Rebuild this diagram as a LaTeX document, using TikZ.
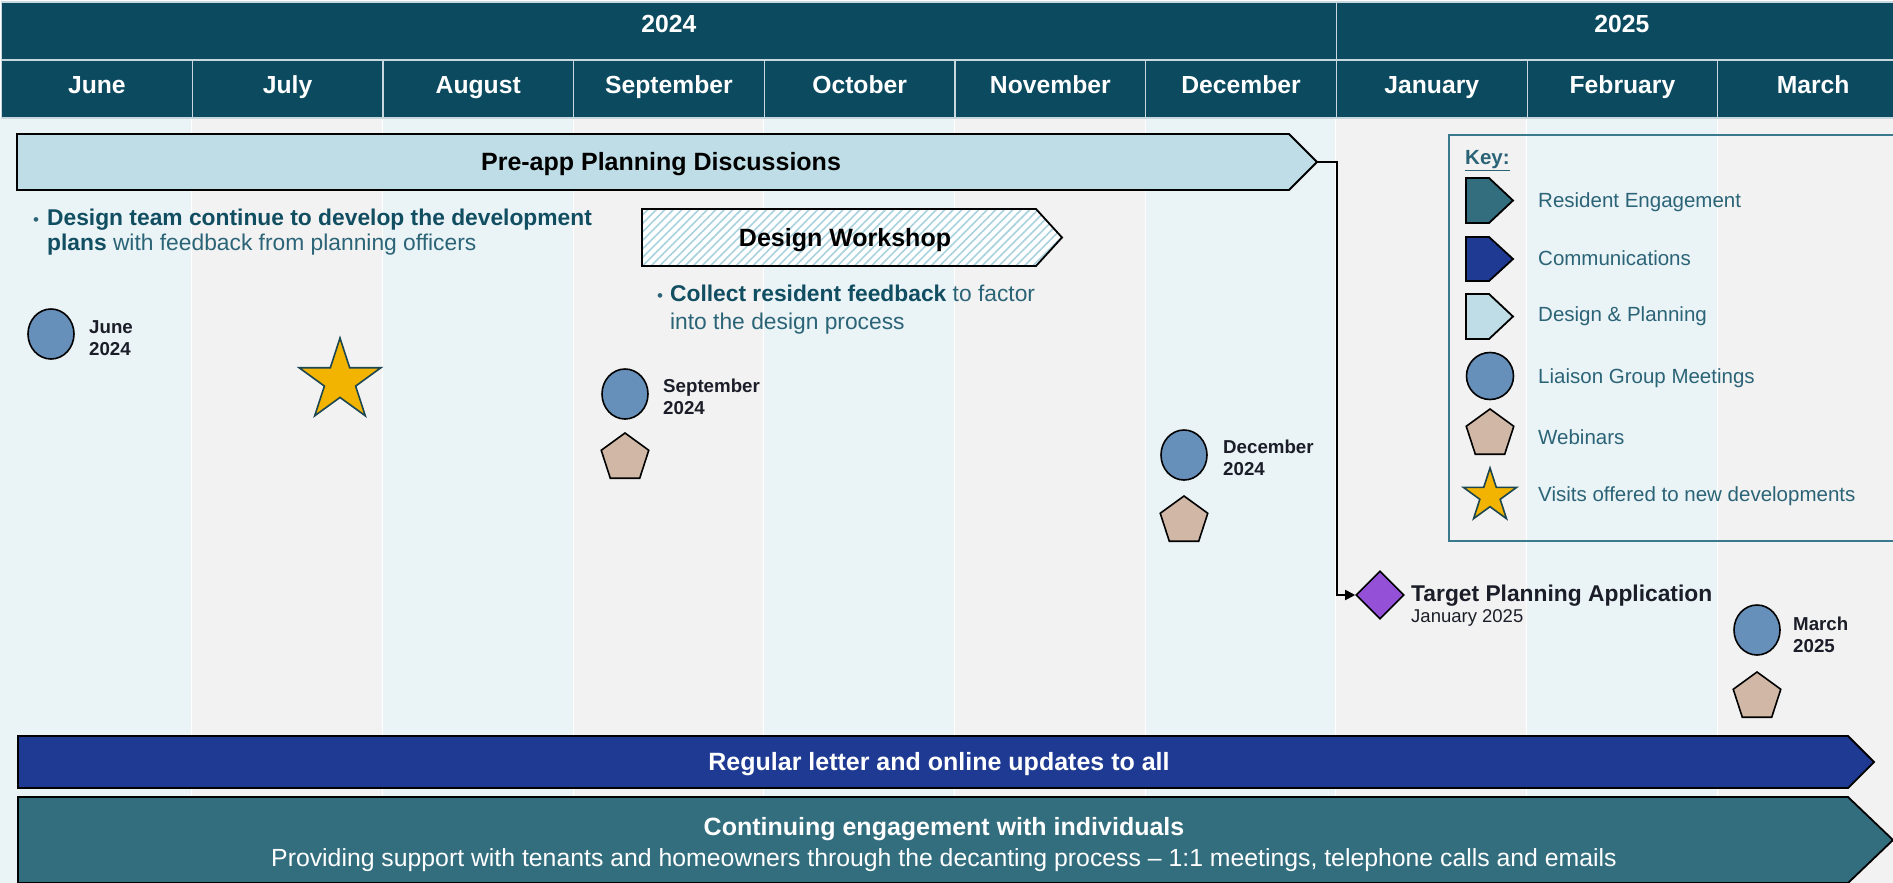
\documentclass[tikz,border=0pt]{standalone}
\usepackage{fontspec}
\setmainfont{Liberation Sans}
\usetikzlibrary{shapes.geometric,patterns.meta,arrows.meta}
\definecolor{hdr}{HTML}{0B4A5F}
\definecolor{hdrline}{HTML}{C9D8DE}
\definecolor{colA}{HTML}{EAF3F6}
\definecolor{colB}{HTML}{F2F2F2}
\definecolor{resEng}{HTML}{336E7E}
\definecolor{comms}{HTML}{1F3A93}
\definecolor{desPlan}{HTML}{BEDDE6}
\definecolor{hatch}{HTML}{A8D2DE}
\definecolor{liaison}{HTML}{6690BA}
\definecolor{webinar}{HTML}{D1B8A6}
\definecolor{starfill}{HTML}{F2B400}
\definecolor{stardraw}{HTML}{1C4650}
\definecolor{tpa}{HTML}{9450D6}
\definecolor{keyline}{HTML}{3B7A8C}
\definecolor{keytxt}{HTML}{2B6477}
\definecolor{bulletbold}{HTML}{124E62}
\definecolor{bulletreg}{HTML}{2B6477}
\definecolor{lblc}{HTML}{1B1E28}
\newcommand\mkarrowbar[6]{%
  \path[#6] (#1,#2) -- (#3,#2) -- (#4,{(#2+#5)/2}) -- (#3,#5) -- (#1,#5) -- cycle;}
\tikzset{
  cell/.style={draw=hdrline, line width=1.2pt, fill=hdr, inner sep=0pt},
  celltext/.style={text=white, font=\bfseries\fontsize{24.7}{28}\selectfont, inner sep=0pt, anchor=base},
  barline/.style={draw=black, line width=1.8pt, line join=miter},
  bartext/.style={font=\bfseries\fontsize{25}{29}\selectfont, inner sep=0pt, align=center},
  circ/.style={ellipse, draw=black, line width=1.6pt, fill=liaison,
    minimum width=46pt, minimum height=50pt, inner sep=0pt},
  pent/.style={regular polygon, regular polygon sides=5, draw=black, line width=1.6pt,
    fill=webinar, minimum size=50pt, inner sep=0pt},
  starsh/.style={star, star points=5, star point ratio=2.618, draw=stardraw,
    line width=1.6pt, fill=starfill, inner sep=0pt},
  lbl/.style={font=\bfseries\fontsize{18.7}{22.5}\selectfont, text=lblc, align=left,
    anchor=west, inner sep=0pt},
  keyt/.style={font=\fontsize{20.5}{24}\selectfont, text=keytxt, anchor=west, inner sep=0pt},
  bul/.style={font=\fontsize{22.8}{26}\selectfont, text=bulletreg, anchor=west, inner sep=0pt},
  conn/.style={draw=black, line width=1.8pt, -{Triangle[length=10pt,width=10pt]}},
}
\begin{document}
\begin{tikzpicture}[x=1pt,y=-1pt]
\useasboundingbox (0,0) rectangle (1893,883);
\fill[white] (0,0) rectangle (1893,883);
% background columns
\foreach \i in {0,...,9}{
  \pgfmathsetmacro\xa{1.5+190.7*\i}
  \pgfmathsetmacro\xb{1.5+190.7*(\i+1)}
  \pgfmathtruncatemacro\parity{mod(\i,2)}
  \ifnum\parity=0 \fill[colA] (\xa,118) rectangle (\xb,883);
  \else \fill[colB] (\xa,118) rectangle (\xb,883); \fi
  \draw[white, line width=2pt] (\xb,118) -- (\xb,883);
}
\fill[colA] (0,118) rectangle (1.5,883);
% header
\node[cell, minimum width=1334.9pt, minimum height=58pt] (y24) at (668.9,31) {};
\node[celltext] (y24t) at (668.9,32.5) {2024};
\node[cell, minimum width=571pt, minimum height=58pt] (y25) at (1621.9,31) {};
\node[celltext] (y25t) at (1621.9,32.5) {2025};
\foreach \m [count=\k from 0] in {June,July,August,September,October,November,December,January,February,March}{
  \node[cell, minimum width=190.7pt, minimum height=58pt] (m\k) at ({1.5+190.7*(\k+0.5)},89) {};
  \node[celltext] (mt\k) at ({1.5+190.7*(\k+0.5)},93.5) {\m};
}
% Pre-app bar
\mkarrowbar{17}{134}{1289}{1317}{190}{barline, fill=desPlan}
\node[bartext] (pre) at (661,164) {Pre-app Planning Discussions};
\coordinate (preTip) at (1317,162);
% Design workshop
\mkarrowbar{642}{209}{1036}{1062}{266}{fill=white}
\mkarrowbar{642}{209}{1036}{1062}{266}{pattern={Lines[angle=45,distance=6pt,line width=1.6pt]}, pattern color=hatch}
\mkarrowbar{642}{209}{1036}{1062}{266}{barline}
\node[bartext] (dw) at (845,240) {Design Workshop};
% bullets
\node[bul] (b1) at (33,233) {\begin{tabular}{@{}l@{\hspace{8pt}}l@{}}
  {\fontsize{17}{17}\selectfont\textbullet} & \textcolor{bulletbold}{\bfseries Design team continue to develop the development}\\[-1pt]
  & \textcolor{bulletbold}{\bfseries plans} with feedback from planning officers
  \end{tabular}};
\node[bul] (b2) at (657,310) {\begin{tabular}{@{}l@{\hspace{7pt}}l@{}}
  {\fontsize{17}{17}\selectfont\textbullet} & \textcolor{bulletbold}{\bfseries Collect resident feedback} to factor\\[2pt]
  & into the design process
  \end{tabular}};
% events
\node[circ] (c1) at (51,334) {};
\node[lbl] (l1) at (89,338) {June\\2024};
\node[starsh, minimum size=86pt] (s1) at (340,381) {};
\node[circ] (c2) at (625,394) {};
\node[lbl] (l2) at (663,397) {September\\2024};
\node[pent] (p2) at (625,458) {};
\node[circ] (c3) at (1184,455) {};
\node[lbl] (l3) at (1223,458) {December\\2024};
\node[pent] (p3) at (1184,521) {};
\node[circ] (c4) at (1757,630) {};
\node[lbl] (l4) at (1793,635) {March\\2025};
\node[pent] (p4) at (1757,697) {};
% target planning application
\node[diamond, draw=black, line width=1.6pt, fill=tpa, minimum width=48pt, minimum height=48pt, inner sep=0pt] (tpa) at (1380,595) {};
\node[anchor=west, inner sep=0pt, align=left, text=lblc] (tpat) at (1411,606)
  {{\bfseries\fontsize{22.8}{26}\selectfont Target Planning Application}\\[2pt]{\fontsize{18.5}{20}\selectfont January 2025}};
\draw[conn] (preTip) -- ++(20,0) |- (tpa.west);
% key
\draw[keyline, line width=2pt] (1449,135) rectangle (1900,541);
\node[anchor=west, inner sep=0pt, text=keytxt, font=\bfseries\fontsize{20.5}{24}\selectfont] (keyh) at (1465,161) {\underline{Key:}};
\mkarrowbar{1466}{178}{1489}{1513}{223}{barline, fill=resEng}
\node[keyt] (k1) at (1538,202) {Resident Engagement};
\mkarrowbar{1466}{237}{1489}{1513}{281}{barline, fill=comms}
\node[keyt] (k2) at (1538,258) {Communications};
\mkarrowbar{1466}{294}{1489}{1513}{339}{barline, fill=desPlan}
\node[keyt] (k3) at (1538,316) {Design \& Planning};
\node[circ, minimum width=47pt, minimum height=47pt] (kc) at (1490,376) {};
\node[keyt] (k4) at (1538,378) {Liaison Group Meetings};
\node[pent] (kp) at (1490,434) {};
\node[keyt] (k5) at (1538,437) {Webinars};
\node[starsh, minimum size=56pt] (ks) at (1490,496) {};
\node[keyt] (k6) at (1538,496) {Visits offered to new developments};
% bottom bars
\mkarrowbar{18}{736}{1848}{1874}{788}{barline, fill=comms}
\node[bartext, text=white] (comm) at (939,764) {Regular letter and online updates to all};
\mkarrowbar{18}{797}{1848}{1893}{883}{barline, fill=resEng}
\node[bartext, text=white] (res) at (944,845) {Continuing engagement with individuals\\[2pt]
  {\mdseries\fontsize{24.8}{29}\selectfont Providing support with tenants and homeowners through the decanting process -- 1:1 meetings, telephone calls and emails}};
\end{tikzpicture}
\end{document}
